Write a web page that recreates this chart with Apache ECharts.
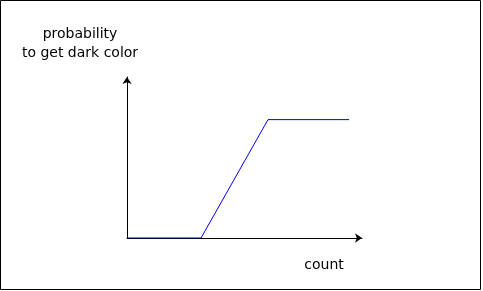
<!DOCTYPE html>
<html>
<head>
<meta charset="utf-8">
<script src="https://cdn.jsdelivr.net/npm/echarts@6/dist/echarts.min.js"></script>
<style>html,body{margin:0;padding:0;background:#fff}#c{width:483px;height:291px}</style>
</head>
<body>
<div id="c"></div>
<script>
var countValues = [0, 3.15, 6.0, 9.45];
var probabilityValues = [0, 0, 1, 1];
var yAxisTitle = 'probability\nto get dark color';
var xAxisTitle = 'count';

var chart = echarts.init(document.getElementById('c'), null, {renderer: 'canvas'});
var pts = countValues.map(function (c, i) { return [c, probabilityValues[i]]; });
var font = 'DejaVu Sans';
chart.setOption({
  animation: false,
  backgroundColor: '#fff',
  grid: {left: 127, right: 121, top: 77, bottom: 53},
  xAxis: {
    type: 'value', min: 0, max: 10,
    axisLine: {show: true, symbol: ['none', 'arrow'], symbolSize: [7, 7], lineStyle: {color: '#000', width: 1}},
    axisTick: {show: false}, axisLabel: {show: false}, splitLine: {show: false}
  },
  yAxis: {
    type: 'value', min: 0, max: 1.36,
    axisLine: {show: true, symbol: ['none', 'arrow'], symbolSize: [7, 7], lineStyle: {color: '#000', width: 1}},
    axisTick: {show: false}, axisLabel: {show: false}, splitLine: {show: false}
  },
  graphic: [
    {type: 'rect', shape: {x: 0.5, y: 0.5, width: 480, height: 289}, style: {fill: 'none', stroke: '#000', lineWidth: 1}, silent: true},
    {type: 'text', style: {text: yAxisTitle, x: 80, y: 25, align: 'center', font: '14px "' + font + '"', lineHeight: 19, fill: '#000'}},
    {type: 'text', style: {text: xAxisTitle, x: 324, y: 258, align: 'center', font: '14px "' + font + '"', fill: '#000'}}
  ],
  series: [{
    type: 'line', data: pts, symbol: 'none',
    lineStyle: {color: '#0000ff', width: 1}
  }]
});
</script>
</body>
</html>
